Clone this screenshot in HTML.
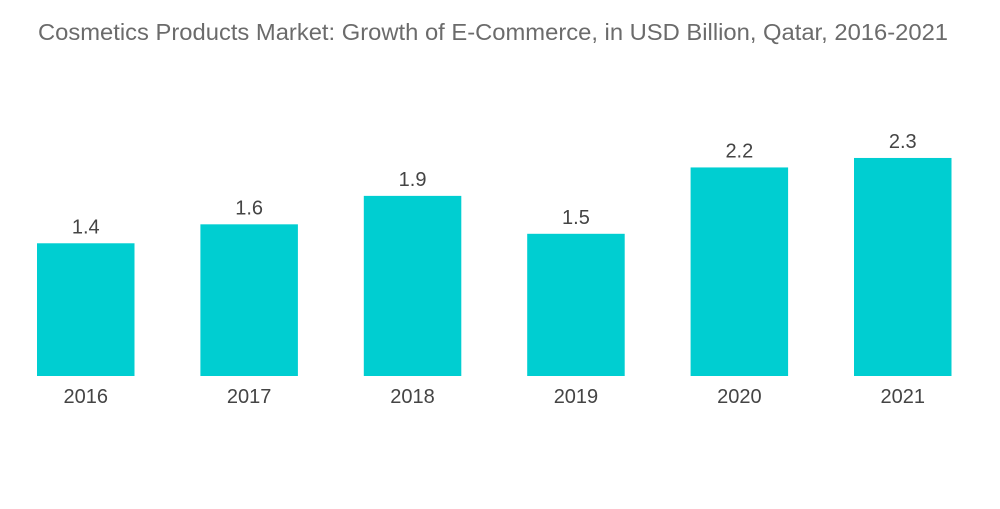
<!DOCTYPE html>
<html><head><meta charset="utf-8">
<style>
html,body{margin:0;padding:0;background:#fff;}
body{width:1000px;height:504px;overflow:hidden;font-family:"Liberation Sans",sans-serif;}
</style></head>
<body>
<svg id="chart" width="1000" height="504" xmlns="http://www.w3.org/2000/svg">
<text x="38" y="40" font-family="Liberation Sans, sans-serif" font-size="23" fill="#6b6b6b" textLength="910" lengthAdjust="spacingAndGlyphs">Cosmetics Products Market: Growth of E-Commerce, in USD Billion, Qatar, 2016-2021</text>
<g id="bars"></g>
</svg>
<script>
const categories = ["2016","2017","2018","2019","2020","2021"];
const values = [1.4, 1.6, 1.9, 1.5, 2.2, 2.3];
const valueLabels = ["1.4","1.6","1.9","1.5","2.2","2.3"];

const baseline = 376, unit = 94.8, x0 = 37, step = 163.4, barW = 97.5;
const yScale = v => baseline - v * unit;
const xScale = i => x0 + i * step;
const g = document.getElementById('bars');
const ns = "http://www.w3.org/2000/svg";
categories.forEach((c, i) => {
  const x = xScale(i), y = yScale(values[i]);
  const r = document.createElementNS(ns, 'rect');
  
  
  r.setAttribute('x', x); r.setAttribute('y', y);
  r.setAttribute('width', barW); r.setAttribute('height', baseline - y);
  r.setAttribute('fill', '#00ced1');
  g.appendChild(r);
  const t = document.createElementNS(ns, 'text');
  
  
  t.setAttribute('x', x + barW / 2); t.setAttribute('y', y - 10);
  t.setAttribute('text-anchor', 'middle'); t.setAttribute('font-size', '20');
  t.setAttribute('fill', '#444');
  t.textContent = valueLabels[i];
  g.appendChild(t);
  const l = document.createElementNS(ns, 'text');
  
  
  l.setAttribute('x', x + barW / 2); l.setAttribute('y', 403);
  l.setAttribute('text-anchor', 'middle'); l.setAttribute('font-size', '20');
  l.setAttribute('fill', '#444');
  l.textContent = c;
  g.appendChild(l);
});
</script>
</body></html>
